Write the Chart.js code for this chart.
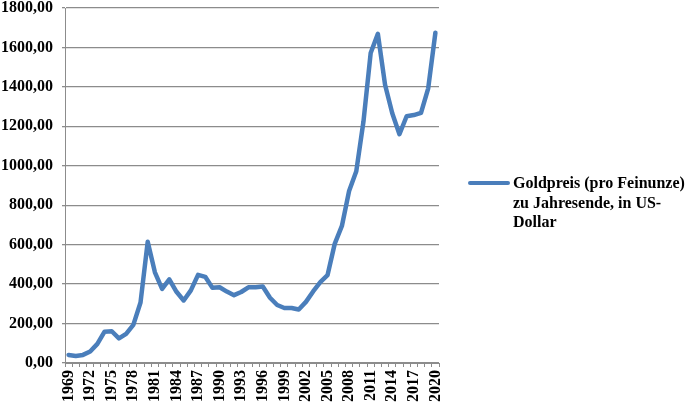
<!DOCTYPE html>
<html>
<head>
<meta charset="utf-8">
<script src="https://cdn.jsdelivr.net/npm/chart.js@4/dist/chart.umd.min.js"></script>
<style>
  html, body { margin: 0; padding: 0; background: #fff; }
  #wrap { position: relative; width: 685px; height: 404px; }
  #legend {
    position: absolute; left: 468px; top: 173px;
    font: bold 16px "Liberation Serif", "Times New Roman", serif;
    line-height: 19.5px; color: #000;
  }
  #legend .swatch {
    position: absolute; left: 0; top: 8px; width: 42px; height: 4px;
    background: #4A7EBB; border-radius: 2px;
  }
  #legend .txt { margin-left: 45px; width: 176px; }
</style>
</head>
<body>
<div id="wrap">
  <canvas id="c" width="685" height="404"></canvas>
  <div id="legend"><div class="swatch"></div><div class="txt">Goldpreis (pro Feinunze) zu Jahresende, in US-Dollar</div></div>
</div>
<script>
// Jahre (Kategorien)
const years = [];
for (let y = 1969; y <= 2020; y++) years.push(String(y));

// Goldpreis je Jahr (US-Dollar)
const goldPrice = [
  41, 36, 41, 58, 97, 159, 161, 125, 148, 193,
  307, 615, 460, 376, 424, 361, 317, 368, 447, 437,
  381, 384, 362, 344, 360, 384, 384, 388, 331, 294,
  279, 279, 271, 310, 363, 410, 445, 604, 695, 872,
  972, 1225, 1572, 1669, 1411, 1266, 1160, 1251, 1257, 1268,
  1393, 1675
];

const yMin = 0, yMax = 1800, yStep = 200;
const FONT = { family: '"Liberation Serif", "Times New Roman", serif', size: 16, weight: 'bold' };

new Chart(document.getElementById('c'), {
  type: 'line',
  data: {
    labels: years,
    datasets: [{
      label: 'Goldpreis (pro Feinunze) zu Jahresende, in US-Dollar',
      data: goldPrice,
      borderColor: '#4A7EBB',
      borderWidth: 4.5,
      pointRadius: 0,
      tension: 0,
      borderJoinStyle: 'round',
      borderCapStyle: 'round',
      fill: false
    }]
  },
  options: {
    responsive: false,
    animation: false,
    layout: { padding: { top: 8, right: 246, left: 0, bottom: 0 } },
    plugins: { legend: { display: false }, tooltip: { enabled: false } },
    scales: {
      x: {
        offset: true,
        grid: { display: true, drawOnChartArea: false, offset: true, drawTicks: true,
                tickLength: 4, color: '#8c8c8c', lineWidth: 1 },
        border: { display: true, color: '#8c8c8c', width: 1 },
        ticks: {
          autoSkip: false, minRotation: 90, maxRotation: 90, padding: 3,
          color: '#000', font: FONT,
          callback: (v, i) => (i % 3 === 0 ? years[i] : '')
        },
        afterFit: s => { s.height = 41; s.paddingLeft = 0; s.paddingRight = 0; }
      },
      y: {
        min: yMin, max: yMax,
        grid: { color: '#8c8c8c', lineWidth: 1.3, tickLength: 3 },
        border: { display: true, color: '#8c8c8c', width: 1 },
        ticks: {
          stepSize: yStep, padding: 9, color: '#000', font: FONT,
          callback: v => v.toFixed(2).replace('.', ',')
        },
        afterFit: s => { s.width = 65; s.paddingTop = 0; s.paddingBottom = 0; }
      }
    }
  }
});
</script>
</body>
</html>
